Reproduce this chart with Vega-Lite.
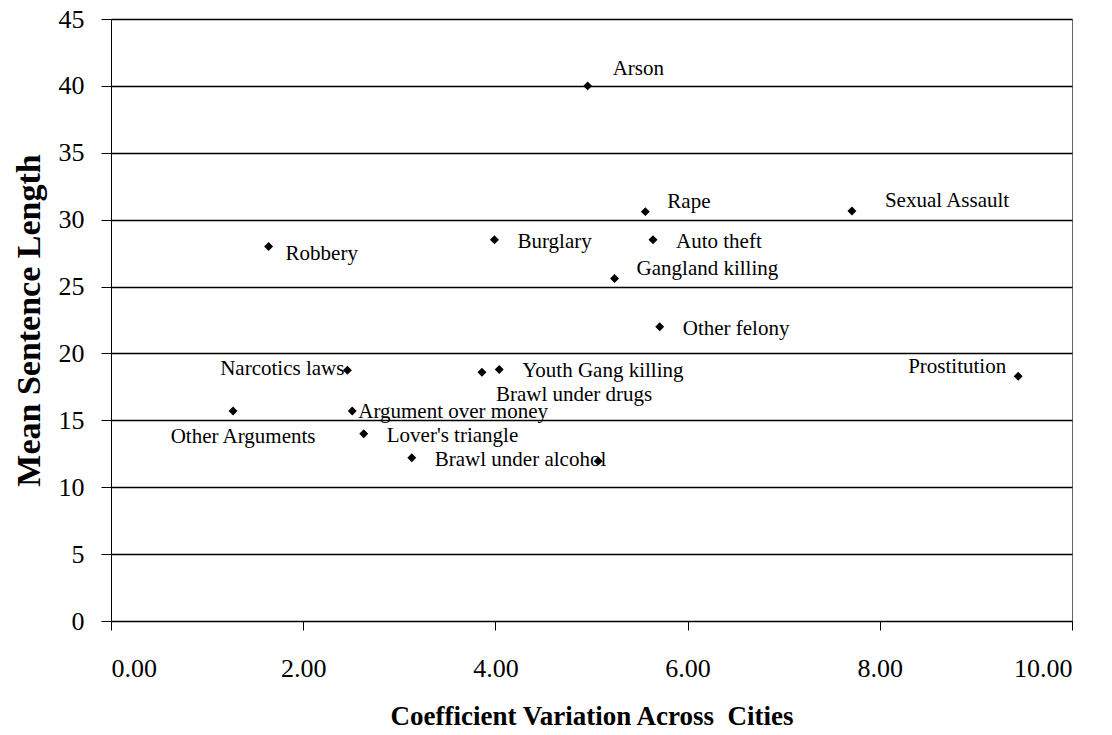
{
  "$schema": "https://vega.github.io/schema/vega-lite/v6.json",
  "width": 961,
  "height": 602,
  "autosize": {"type": "none"},
  "padding": {"left": 111, "top": 19, "right": 40, "bottom": 114},
  "background": "white",
  "config": {
    "font": "Liberation Serif",
    "view": {"stroke": "#666", "strokeWidth": 1},
    "axis": {"labelColor": "black", "titleColor": "black", "domainColor": "black", "tickColor": "black", "labelFont": "Liberation Serif", "titleFont": "Liberation Serif"}
  },
  "data": {
    "values": [
      {"crime": "Arson", "cv": 4.96, "mean": 40.0},
      {"crime": "Rape", "cv": 5.56, "mean": 30.6},
      {"crime": "Sexual Assault", "cv": 7.71, "mean": 30.65},
      {"crime": "Robbery", "cv": 1.64, "mean": 28.0},
      {"crime": "Burglary", "cv": 3.99, "mean": 28.5},
      {"crime": "Auto theft", "cv": 5.64, "mean": 28.5},
      {"crime": "Gangland killing", "cv": 5.24, "mean": 25.6},
      {"crime": "Other felony", "cv": 5.71, "mean": 22.0},
      {"crime": "Narcotics laws", "cv": 2.46, "mean": 18.75},
      {"crime": "Brawl under drugs", "cv": 3.86, "mean": 18.6},
      {"crime": "Youth Gang killing", "cv": 4.04, "mean": 18.8},
      {"crime": "Prostitution", "cv": 9.44, "mean": 18.3},
      {"crime": "Other Arguments", "cv": 1.27, "mean": 15.7},
      {"crime": "Argument over money", "cv": 2.51, "mean": 15.7},
      {"crime": "Lover's triangle", "cv": 2.63, "mean": 14.0},
      {"crime": "Brawl under alcohol", "cv": 3.13, "mean": 12.2},
      {"crime": "", "cv": 5.07, "mean": 11.95}
    ]
  },
  "encoding": {
    "x": {
      "field": "cv", "type": "quantitative",
      "scale": {"domain": [0, 10], "nice": false},
      "axis": {
        "title": "Coefficient Variation Across \u00a0Cities",
        "values": [0, 2, 4, 6, 8, 10], "format": ".2f",
        "grid": false, "tickSize": 9, "labelFontSize": 26, "labelPadding": 25,
        "titleFontSize": 27, "titleFontWeight": "bold", "titlePadding": 22
      }
    },
    "y": {
      "field": "mean", "type": "quantitative",
      "scale": {"domain": [0, 45], "nice": false},
      "axis": {
        "title": "Mean Sentence Length",
        "values": [0, 5, 10, 15, 20, 25, 30, 35, 40, 45],
        "grid": true, "gridColor": "black", "gridWidth": 1.3, "gridOpacity": 1,
        "tickSize": 10, "labelFontSize": 26, "labelPadding": 17,
        "titleFontSize": 34, "titleFontWeight": "bold", "titlePadding": 12
      }
    }
  },
  "layer": [
    {"mark": {"type": "point", "shape": "diamond", "filled": true, "color": "black", "size": 80, "opacity": 1}},
    {
      "transform": [{"filter": {"field": "crime", "oneOf": ["Burglary", "Auto theft", "Youth Gang killing", "Lover's triangle", "Brawl under alcohol", "Other felony"]}}],
      "mark": {"type": "text", "align": "left", "baseline": "middle", "dx": 23, "dy": 2, "fontSize": 21, "color": "black"},
      "encoding": {"text": {"field": "crime"}}
    },
    {
      "transform": [{"filter": {"field": "crime", "oneOf": ["Rape", "Gangland killing"]}}],
      "mark": {"type": "text", "align": "left", "baseline": "middle", "dx": 22, "dy": -10, "fontSize": 21, "color": "black"},
      "encoding": {"text": {"field": "crime"}}
    },
    {
      "transform": [{"filter": {"field": "crime", "equal": "Sexual Assault"}}],
      "mark": {"type": "text", "align": "left", "baseline": "middle", "dx": 33, "dy": -10, "fontSize": 21, "color": "black"},
      "encoding": {"text": {"field": "crime"}}
    },
    {
      "transform": [{"filter": {"field": "crime", "equal": "Arson"}}],
      "mark": {"type": "text", "align": "left", "baseline": "middle", "dx": 25, "dy": -17, "fontSize": 21, "color": "black"},
      "encoding": {"text": {"field": "crime"}}
    },
    {
      "transform": [{"filter": {"field": "crime", "equal": "Robbery"}}],
      "mark": {"type": "text", "align": "left", "baseline": "middle", "dx": 17, "dy": 8, "fontSize": 21, "color": "black"},
      "encoding": {"text": {"field": "crime"}}
    },
    {
      "transform": [{"filter": {"field": "crime", "equal": "Argument over money"}}],
      "mark": {"type": "text", "align": "left", "baseline": "middle", "dx": 6, "dy": 1, "fontSize": 21, "color": "black"},
      "encoding": {"text": {"field": "crime"}}
    },
    {
      "transform": [{"filter": {"field": "crime", "equal": "Narcotics laws"}}],
      "mark": {"type": "text", "align": "right", "baseline": "middle", "dx": -3, "dy": -1, "fontSize": 21, "color": "black"},
      "encoding": {"text": {"field": "crime"}}
    },
    {
      "transform": [{"filter": {"field": "crime", "equal": "Prostitution"}}],
      "mark": {"type": "text", "align": "right", "baseline": "middle", "dx": -12, "dy": -9, "fontSize": 21, "color": "black"},
      "encoding": {"text": {"field": "crime"}}
    },
    {
      "transform": [{"filter": {"field": "crime", "equal": "Other Arguments"}}],
      "mark": {"type": "text", "align": "center", "baseline": "middle", "dx": 10, "dy": 26, "fontSize": 21, "color": "black"},
      "encoding": {"text": {"field": "crime"}}
    },
    {
      "transform": [{"filter": {"field": "crime", "equal": "Brawl under drugs"}}],
      "mark": {"type": "text", "align": "left", "baseline": "middle", "dx": 14, "dy": 23, "fontSize": 21, "color": "black"},
      "encoding": {"text": {"field": "crime"}}
    }
  ]
}
